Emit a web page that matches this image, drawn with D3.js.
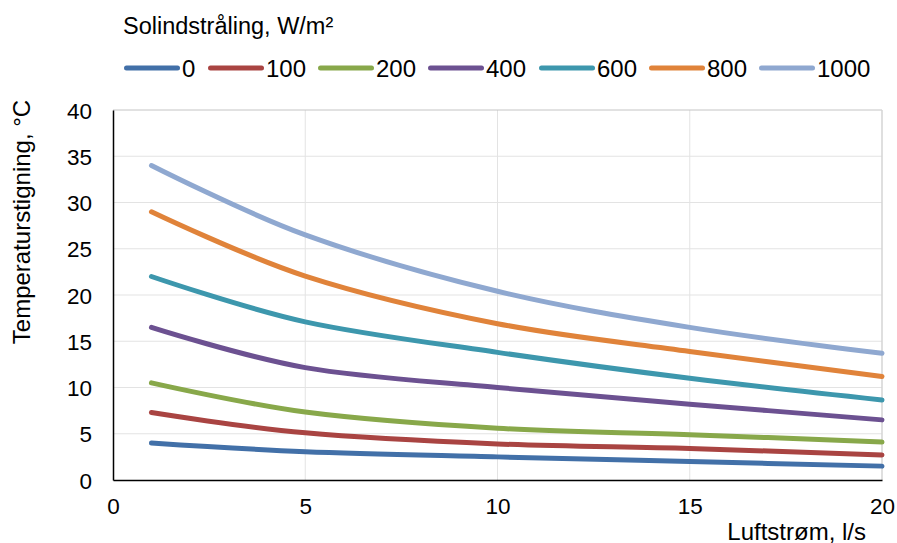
<!DOCTYPE html>
<html>
<head>
<meta charset="utf-8">
<script src="https://cdn.jsdelivr.net/npm/d3@7"></script>
<style>
  body { margin: 0; background: #fff; }
  svg text { font-family: "Liberation Sans", Arial, sans-serif; fill: #000; }
</style>
</head>
<body>
<div id="chart"></div>
<script>
// airflow points (l/s)
const airflow = [1, 5, 10, 15, 20];
const radiation = ["0", "100", "200", "400", "600", "800", "1000"];
const rise0 = [4.0, 3.06, 2.5, 2.0, 1.5];
const rise100 = [7.3, 5.1, 3.9, 3.4, 2.7];
const rise200 = [10.5, 7.35, 5.6, 4.9, 4.1];
const rise400 = [16.5, 12.15, 10.0, 8.2, 6.5];
const rise600 = [22.0, 17.1, 13.8, 11.0, 8.65];
const rise800 = [29.0, 22.05, 16.9, 13.9, 11.2];
const rise1000 = [34.0, 26.5, 20.4, 16.5, 13.7];
const xTicks = [0, 5, 10, 15, 20];
const yTicks = [0, 5, 10, 15, 20, 25, 30, 35, 40];

const seriesValues = [rise0, rise100, rise200, rise400, rise600, rise800, rise1000];
const colors = ["#4270a8", "#a94442", "#88a84a", "#6c5191", "#3d97ad", "#e0833a", "#8fa8d0"];

const width = 897, height = 543;
const margin = { top: 110, right: 15, bottom: 63, left: 113 };

const svg = d3.select("#chart").append("svg")
  .attr("width", width)
  .attr("height", height);

const x = d3.scaleLinear().domain([0, 20]).range([margin.left, width - margin.right]);
const y = d3.scaleLinear().domain([0, 40]).range([height - margin.bottom, margin.top]);

// gridlines
svg.append("g")
  .selectAll("line.hgrid")
  .data(yTicks.filter(d => d > 0 && d < 40))
  .join("line")
  .attr("x1", x(0)).attr("x2", x(20))
  .attr("y1", d => y(d)).attr("y2", d => y(d))
  .attr("stroke", "#e3e3e3").attr("stroke-width", 1);

svg.append("g")
  .selectAll("line.vgrid")
  .data(xTicks.filter(d => d > 0 && d < 20))
  .join("line")
  .attr("y1", y(0)).attr("y2", y(40))
  .attr("x1", d => x(d)).attr("x2", d => x(d))
  .attr("stroke", "#e3e3e3").attr("stroke-width", 1);

// plot border top / right
svg.append("line")
  .attr("x1", x(0)).attr("x2", x(20)).attr("y1", y(40)).attr("y2", y(40))
  .attr("stroke", "#c4c4c4");
svg.append("line")
  .attr("x1", x(20)).attr("x2", x(20)).attr("y1", y(40)).attr("y2", y(0))
  .attr("stroke", "#d4d4d4").attr("stroke-width", 1.5);

// axes
const xAxis = svg.append("g")
  .attr("transform", `translate(0,${y(0)})`)
  .call(d3.axisBottom(x).tickValues(xTicks).tickSize(0).tickPadding(18));
const yAxis = svg.append("g")
  .attr("transform", `translate(${x(0)},0)`)
  .call(d3.axisLeft(y).tickValues(yTicks).tickSize(0).tickPadding(21));

[xAxis, yAxis].forEach(g => {
  g.select(".domain").attr("stroke", "#000").attr("stroke-width", 1.5);
  g.selectAll("text").style("font-size", "22.5px")
    .style("font-family", "'Liberation Sans', Arial, sans-serif");
});
yAxis.selectAll("text").attr("dy", "0.36em");

// series lines
const line = d3.line()
  .x((d, i) => x(airflow[i]))
  .y(d => y(d))
  .curve(d3.curveCardinal.tension(0));

svg.append("g")
  .selectAll("path")
  .data(seriesValues)
  .join("path")
  .attr("d", d => line(d))
  .attr("fill", "none")
  .attr("stroke", (d, i) => colors[i])
  .attr("stroke-width", 5)
  .attr("stroke-linecap", "round")
  .attr("stroke-linejoin", "round");

// axis titles
svg.append("text")
  .attr("transform", `translate(30, 222) rotate(-90)`)
  .attr("text-anchor", "middle")
  .style("font-size", "24px")
  .text("Temperaturstigning, °C");

svg.append("text")
  .attr("x", 866)
  .attr("y", 540)
  .attr("text-anchor", "end")
  .style("font-size", "24px")
  .text("Luftstrøm, l/s");

// legend
svg.append("text")
  .attr("x", 123)
  .attr("y", 34)
  .style("font-size", "23.5px")
  .text("Solindstråling, W/m²");

const legendX = [124, 208, 318, 428, 539, 649, 759];
const legend = svg.append("g")
  .selectAll("g")
  .data(radiation)
  .join("g")
  .attr("transform", (d, i) => `translate(${legendX[i]},68)`);

legend.append("line")
  .attr("x1", 2.5).attr("x2", 53.5)
  .attr("stroke", (d, i) => colors[i])
  .attr("stroke-width", 5)
  .attr("stroke-linecap", "round");

legend.append("text")
  .attr("x", 58)
  .attr("dy", "0.36em")
  .style("font-size", "24px")
  .text(d => d);
</script>
</body>
</html>
